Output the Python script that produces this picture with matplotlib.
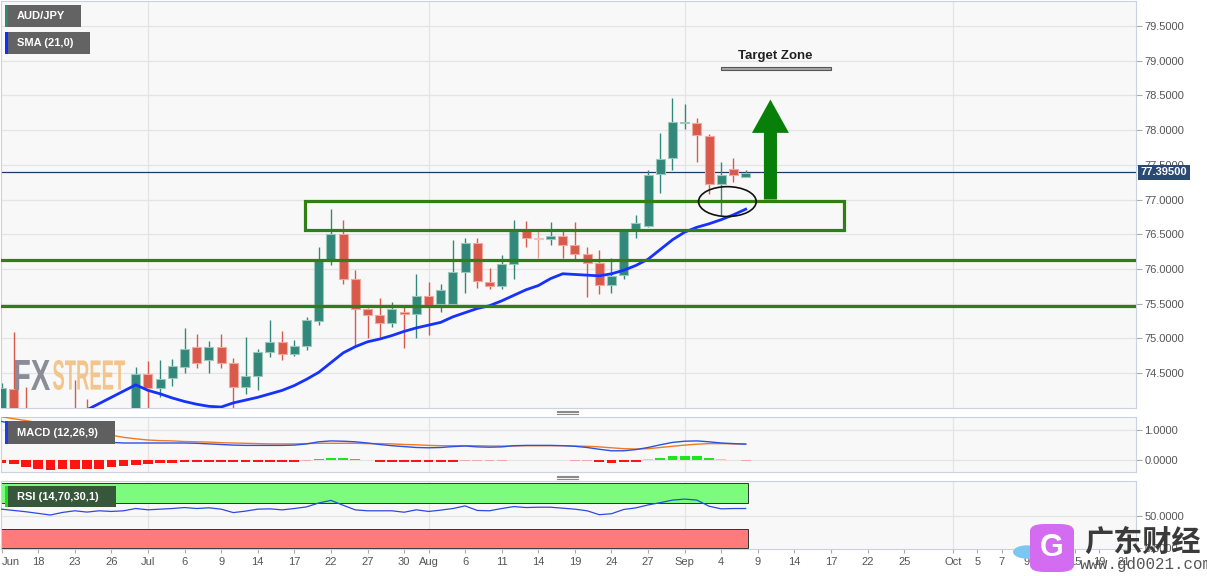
import matplotlib
matplotlib.use("Agg")
import matplotlib.pyplot as plt
from matplotlib.patches import Rectangle, Ellipse, FancyArrow, FancyBboxPatch, PathPatch, Circle
from matplotlib.textpath import TextPath
from matplotlib.font_manager import FontProperties
from matplotlib.transforms import Affine2D, blended_transform_factory
from matplotlib.lines import Line2D

plt.rcParams['font.family'] = ['Liberation Sans', 'DejaVu Sans']

# AUD/JPY daily candles, one per trading day from Jun 15
opens = [73.20, 74.27, 73.95, 73.60, 73.80, 73.40, 73.70, 73.50, 73.10, 73.40,
         73.00, 73.40, 74.48, 74.28, 74.43, 74.58, 74.88, 74.69, 74.88, 74.65,
         74.30, 74.46, 74.81, 74.94, 74.77, 74.89, 75.25, 76.13, 76.51, 75.85,
         75.42, 75.34, 75.22, 75.38, 75.35, 75.61, 75.49, 75.50, 75.95, 76.37,
         75.81, 75.76, 76.07, 76.55, 76.44, 76.43, 76.47, 76.34, 76.21, 76.09,
         75.77, 75.91, 76.57, 76.62, 77.37, 77.60, 78.10, 78.10, 77.92, 77.23,
         77.44, 77.33]
highs = [74.35, 75.09, 74.30, 73.95, 73.98, 73.90, 74.40, 74.13, 73.70, 73.80,
         73.60, 74.58, 74.68, 74.69, 74.70, 75.15, 75.06, 74.96, 75.06, 74.72,
         75.02, 74.84, 75.27, 75.10, 74.97, 75.30, 76.31, 76.87, 76.71, 75.98,
         75.44, 75.58, 75.52, 75.47, 75.93, 75.81, 75.78, 76.42, 76.44, 76.44,
         76.02, 76.20, 76.71, 76.69, 76.54, 76.68, 76.54, 76.68, 76.32, 76.27,
         76.15, 76.58, 76.78, 77.43, 77.96, 78.46, 78.37, 78.17, 77.95, 77.54,
         77.60, 77.43]
lows = [72.90, 73.60, 73.40, 73.30, 73.20, 73.10, 73.30, 72.90, 72.80, 72.90,
        72.70, 73.30, 73.95, 74.15, 74.32, 74.50, 74.57, 74.50, 74.57, 73.98,
        74.20, 74.25, 74.73, 74.69, 74.74, 74.83, 75.19, 76.06, 75.78, 74.87,
        75.00, 75.02, 75.16, 74.86, 75.01, 75.05, 75.38, 75.48, 75.66, 75.72,
        75.71, 75.71, 75.86, 76.31, 76.15, 76.34, 76.16, 76.13, 75.60, 75.64,
        75.66, 75.86, 76.44, 76.60, 77.09, 77.43, 78.01, 77.54, 77.08, 76.78,
        77.25, 77.32]
closes = [74.28, 73.75, 73.60, 73.80, 73.40, 73.70, 73.50, 73.10, 73.40, 73.00,
          73.40, 74.48, 74.29, 74.41, 74.60, 74.84, 74.65, 74.88, 74.65, 74.30,
          74.46, 74.80, 74.94, 74.77, 74.89, 75.26, 76.13, 76.51, 75.86, 75.42,
          75.34, 75.22, 75.42, 75.35, 75.61, 75.48, 75.70, 75.95, 76.37, 75.82,
          75.76, 76.07, 76.55, 76.45, 76.43, 76.47, 76.35, 76.22, 76.09, 75.77,
          75.90, 76.55, 76.66, 77.35, 77.59, 78.11, 78.12, 77.93, 77.23, 77.36,
          77.36, 77.38]
sma21 = [73.40, 73.50, 73.58, 73.65, 73.72, 73.80, 73.88, 73.97, 74.06, 74.15,
         74.24, 74.33, 74.25, 74.20, 74.14, 74.09, 74.05, 74.02, 74.01, 74.07,
         74.11, 74.15, 74.20, 74.25, 74.32, 74.41, 74.51, 74.65, 74.79, 74.88,
         74.95, 74.99, 75.04, 75.10, 75.15, 75.19, 75.23, 75.31, 75.37, 75.43,
         75.47, 75.54, 75.62, 75.70, 75.76, 75.86, 75.93, 75.92, 75.91, 75.90,
         75.93, 75.98, 76.05, 76.14, 76.28, 76.42, 76.53, 76.60, 76.65, 76.71,
         76.78, 76.86]
macd_line = [1.30, 1.22, 1.13, 1.04, 0.95, 0.87, 0.79, 0.71, 0.65, 0.60,
             0.58, 0.58, 0.58, 0.58, 0.58, 0.58, 0.57, 0.55, 0.53, 0.51,
             0.50, 0.50, 0.50, 0.50, 0.51, 0.55, 0.62, 0.65, 0.64, 0.62,
             0.58, 0.53, 0.49, 0.46, 0.43, 0.42, 0.43, 0.46, 0.48, 0.45,
             0.44, 0.45, 0.49, 0.50, 0.50, 0.50, 0.49, 0.47, 0.43, 0.37,
             0.32, 0.32, 0.36, 0.43, 0.52, 0.60, 0.64, 0.65, 0.62, 0.58,
             0.56, 0.54]
macd_signal = [1.46, 1.39, 1.33, 1.26, 1.20, 1.13, 1.06, 0.99, 0.92, 0.84,
               0.77, 0.72, 0.68, 0.66, 0.65, 0.63, 0.62, 0.61, 0.59, 0.58,
               0.57, 0.56, 0.55, 0.55, 0.55, 0.56, 0.57, 0.57, 0.57, 0.57,
               0.56, 0.56, 0.55, 0.53, 0.52, 0.50, 0.49, 0.49, 0.49, 0.49,
               0.48, 0.48, 0.48, 0.49, 0.49, 0.49, 0.49, 0.48, 0.47, 0.45,
               0.42, 0.39, 0.38, 0.39, 0.43, 0.47, 0.51, 0.54, 0.56, 0.56,
               0.55, 0.55]
macd_hist = [-0.10, -0.13, -0.21, -0.28, -0.32, -0.30, -0.30, -0.30, -0.28, -0.21,
             -0.19, -0.17, -0.13, -0.10, -0.08, -0.06, -0.05, -0.04, -0.05, -0.06,
             -0.06, -0.06, -0.06, -0.05, -0.05, -0.03, 0.04, 0.09, 0.09, 0.04,
             0.01, -0.06, -0.06, -0.06, -0.06, -0.06, -0.06, -0.05, -0.01, -0.03,
             -0.03, -0.03, 0.01, 0.01, 0.01, 0.01, 0.01, -0.02, -0.03, -0.06,
             -0.08, -0.05, -0.04, 0.03, 0.07, 0.14, 0.16, 0.14, 0.07, 0.03,
             0.02, -0.01]
rsi14 = [60.5, 58.5, 56.5, 54.0, 51.5, 55.5, 58.0, 56.0, 58.0, 57.0,
         58.0, 61.5, 59.5, 60.5, 61.5, 63.0, 61.5, 62.6, 60.5, 55.2,
         57.5, 60.5, 61.0, 59.4, 61.5, 64.0, 70.0, 74.0, 66.5, 59.4,
         58.0, 58.0, 58.0, 55.8, 59.5, 57.0, 59.0, 61.5, 65.5, 58.5,
         58.0, 61.5, 64.5, 63.0, 63.5, 63.5, 62.0, 60.5, 58.0, 52.0,
         53.5, 60.0, 62.5, 67.0, 70.5, 74.5, 76.0, 74.5, 65.0, 61.0,
         61.5, 61.5]

tick_pos = [0, 3, 6, 9, 12, 15, 18, 21, 24, 27, 30, 33, 35, 38, 41, 44, 47,
            50, 53, 56, 59, 62, 65, 68, 71, 74, 78, 80, 82, 84, 86, 88, 90, 92]
tick_labels = ["Jun", "18", "23", "26", "Jul", "6", "9", "14", "17", "22", "27",
               "30", "Aug", "6", "11", "14", "19", "24", "27", "Sep", "4", "9",
               "14", "17", "22", "25", "Oct", "5", "7", "9", "13", "15", "19", "21"]
month_pos = [12, 35, 56, 78]
last_price = 77.395
support_levels = [76.13, 75.46]

W, H = 1207, 576
def fx(x):
    return x / W
def fy(y):
    return 1 - y / H

fig = plt.figure(figsize=(W / 100, H / 100), dpi=100)
fig.patch.set_facecolor('white')

ax = fig.add_axes([fx(1), fy(408), (1136 - 1) / W, 407 / H])
ax_macd = fig.add_axes([fx(1), fy(472), (1136 - 1) / W, 55.3 / H], sharex=ax)
ax_rsi = fig.add_axes([fx(1), fy(549), (1136 - 1) / W, 68.3 / H], sharex=ax)

xs = list(range(len(closes)))
grid_c = '#e4e4e4'
for a in (ax, ax_macd, ax_rsi):
    a.set_facecolor('#f8f8f8')
    for s in a.spines.values():
        s.set_color('#c9d1e3')
    a.yaxis.tick_right()
    a.tick_params(axis='y', direction='out', length=4, color='#aaaaaa',
                  labelcolor='#555555', labelsize=8, pad=2)
    for m in month_pos:
        a.axvline(m, color=grid_c, lw=0.9, zorder=0)

ax.set_xlim(-0.05, 93.0)

# main price panel
ax.set_ylim(73.996, 79.86)
yt = [74.5 + 0.5 * k for k in range(11)]
ax.set_yticks(yt)
ax.set_yticklabels(["%.4f" % v for v in yt])
for v in yt:
    ax.axhline(v, color=grid_c, lw=0.9, zorder=0)
ax.tick_params(axis='x', bottom=False, labelbottom=False)
ax_macd.tick_params(axis='x', bottom=False, labelbottom=False)

ax.axhline(last_price, color='#1f3a68', lw=0.9, zorder=1)

up_c, dn_c = '#32887a', '#d95a4b'
for i in xs:
    o, h, l, c = opens[i], highs[i], lows[i], closes[i]
    col = up_c if c >= o else dn_c
    edge = '#9cc7bb' if c >= o else '#f0a89f'
    if i == 44:
        col, edge = '#e59a92', '#f3c0ba'
    ax.vlines(i, l, h, color=col, lw=1.0, zorder=2)
    ax.bar(i, max(abs(c - o), 0.012), bottom=min(o, c), width=0.74,
           color=col, edgecolor=edge, lw=0.8, zorder=3)

ax.plot(xs, sma21, color='#1632ff', lw=2.0, zorder=4)

zone_green = '#2f7f12'
for lvl in support_levels:
    ax.axhline(lvl, color=zone_green, lw=2.3, zorder=5)
ax.add_patch(Rectangle((24.9, 76.56), 69.1 - 24.9, 76.98 - 76.56, fill=False,
                       ec=zone_green, lw=2.3, zorder=5))
ax.add_patch(Ellipse((59.5, 76.97), 4.73, 0.43, fill=False, ec='#111111',
                     lw=1.2, zorder=6))
ax.add_patch(FancyArrow(63.03, 77.0, 0, 1.44, width=1.07, head_width=3.03,
                        head_length=0.48, length_includes_head=True,
                        color='#087f08', lw=0, zorder=6))
ax.add_patch(Rectangle((59.0, 78.87), 9.0, 0.045, fc='#a8a8a8', ec='#555555',
                       lw=0.8, zorder=6))
ax.text(63.4, 79.07, "Target Zone", ha='center', va='center', fontsize=9.5,
        fontweight='bold', color='#222222', zorder=7)

trans = blended_transform_factory(ax.transAxes, ax.transData)
ax.text(1.004, last_price, "77.39500", transform=trans, ha='left', va='center',
        color='white', fontsize=8, fontweight='bold', clip_on=False, zorder=8,
        bbox=dict(boxstyle='square,pad=0.22', fc='#2b4a73', ec='none'))

# MACD panel
ax_macd.set_ylim(-0.39, 1.46)
ax_macd.set_yticks([0, 1])
ax_macd.set_yticklabels(["0.0000", "1.0000"])
for v in (0, 1):
    ax_macd.axhline(v, color=grid_c, lw=0.9, zorder=0)

def hist_color(v):
    if v >= 0:
        return '#1ee61e' if v > 0.03 else '#a2f0a2'
    return '#ff1414' if v < -0.03 else '#f2aaaa'

ax_macd.bar(xs, macd_hist, width=0.8, color=[hist_color(v) for v in macd_hist],
            zorder=2)
ax_macd.plot(xs, macd_signal, color='#f07a22', lw=1.0, zorder=3)
ax_macd.plot(xs, macd_line, color='#2d50e6', lw=1.0, zorder=3)

# RSI panel
ax_rsi.set_ylim(-0.8, 104.3)
ax_rsi.set_yticks([0, 50])
ax_rsi.set_yticklabels(["0.0000", "50.0000"])
ax_rsi.axhline(50, color=grid_c, lw=0.9, zorder=0)
ax_rsi.add_patch(Rectangle((-0.05, 70), 61.25, 30, fc='#7cfc7c', ec='#333333',
                           lw=0.7, zorder=1))
ax_rsi.add_patch(Rectangle((-0.05, 0), 61.25, 30, fc='#ff7b7b', ec='#333333',
                           lw=0.7, zorder=1))
ax_rsi.plot(xs, rsi14, color='#2b4be0', lw=0.9, zorder=3)
ax_rsi.set_xticks(tick_pos)
ax_rsi.set_xticklabels(tick_labels)
ax_rsi.tick_params(axis='x', direction='out', length=3, color='#aaaaaa',
                   labelcolor='#555555', labelsize=8, pad=3)
ax_rsi.get_xticklabels()[0].set_ha('left')

# legend-style label boxes
def label_box(x0, y0, x1, y1, text, box_c, stripe_c):
    fig.add_artist(Rectangle((fx(x0), fy(y1)), (x1 - x0) / W, (y1 - y0) / H,
                             transform=fig.transFigure, fc=box_c, ec='none', zorder=10))
    fig.add_artist(Rectangle((fx(x0), fy(y1)), 3 / W, (y1 - y0) / H,
                             transform=fig.transFigure, fc=stripe_c, ec='none', zorder=11))
    fig.text(fx(17), fy((y0 + y1) / 2), text, color='white', fontsize=8,
             fontweight='bold', ha='left', va='center', zorder=12)

label_box(5, 5, 81, 27, "AUD/JPY", '#636363', '#2e8b70')
label_box(5, 32, 90, 54, "SMA (21,0)", '#636363', '#0b30ff')
label_box(5, 421, 115, 444, "MACD (12,26,9)", '#5f5f5f', '#1b3df0')
label_box(5, 486, 116, 507, "RSI (14,70,30,1)", '#37573b', '#22dd22')

# panel resize handles
for yh in (410.5, 475.5):
    for k in range(3):
        fig.add_artist(Line2D([fx(557), fx(578)], [fy(yh + 1.8 * k)] * 2,
                              transform=fig.transFigure, color='#8a8a8a', lw=0.8))

# FXSTREET watermark
fp = FontProperties(family='Liberation Sans', weight='bold')
def squeeze_text(s, x0, x1, ytop, ybot, color):
    tp = TextPath((0, 0), s, size=40, prop=fp)
    ext = tp.get_extents()
    sx = (x1 - x0) / ext.width
    sy = (ybot - ytop) / ext.height
    tr = Affine2D().translate(-ext.x0, -ext.y0).scale(sx, sy).translate(x0, H - ybot)
    fig.add_artist(PathPatch(tp, transform=tr, fc=color, ec='none', zorder=9))

squeeze_text("FX", 15, 50, 360, 390, '#8c8c98')
squeeze_text("STREET", 53, 125, 360, 390, '#f2c58c')

# site watermark bottom right
fig.add_artist(Circle((fx(1027), fy(552)), 14 / W, transform=fig.transFigure,
                      fc='#7cc6f2', ec='none', zorder=13))
fig.add_artist(FancyBboxPatch((fx(1030), fy(572)), 44 / W, 48 / H,
                              boxstyle='round,pad=0.0,rounding_size=0.012',
                              transform=fig.transFigure, fc='#d36cf0', ec='none', zorder=13))
fig.text(fx(1052), fy(548), "G", color='white', fontsize=22, fontweight='bold',
         ha='center', va='center', zorder=14)
fig.text(fx(1084), fy(542), "广东财经", color='#3a3a3a', fontsize=21,
         family=['Noto Sans CJK SC', 'DejaVu Sans'], fontweight='bold',
         ha='left', va='center', zorder=14)
fig.text(fx(1080), fy(565), "www.gd0021.com", color='#555555', fontsize=11.3,
         family=['Liberation Mono', 'DejaVu Sans Mono'], ha='left', va='center', zorder=14)

fig.savefig("out.png", dpi=100)
